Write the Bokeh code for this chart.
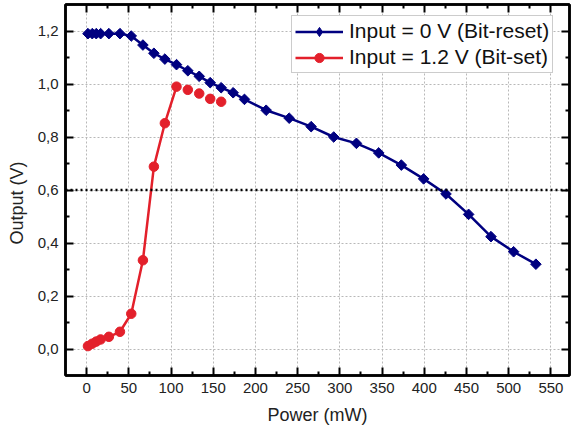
import math
from bokeh.plotting import figure
from bokeh.models import (FixedTicker, LinearAxis, Span, Title, Legend,
                          LegendItem, Range1d)
from bokeh.embed import file_html
from bokeh.resources import INLINE

# ---- data ----
blue_x = [1.6, 6.7, 11.4, 16.6, 26.4, 39.5, 52.9, 66.7, 79.7, 92.7, 106.5,
          119.9, 133.4, 146.4, 159.4, 173.6, 187.0, 212.7, 240.0, 266.0,
          292.7, 319.6, 346.0, 372.8, 399.2, 425.7, 452.5, 479.0, 505.8, 532.2]
blue_y = [1.19, 1.19, 1.19, 1.19, 1.19, 1.19, 1.181, 1.147, 1.116, 1.094,
          1.073, 1.050, 1.029, 1.005, 0.986, 0.967, 0.942, 0.901, 0.871,
          0.839, 0.800, 0.776, 0.740, 0.694, 0.642, 0.585, 0.508, 0.424,
          0.367, 0.320]

red_x = [1.6, 6.7, 11.4, 16.6, 26.4, 39.5, 52.9, 66.7, 79.7, 92.7, 106.5,
         119.9, 133.4, 146.4, 159.4]
red_y = [0.011, 0.020, 0.028, 0.036, 0.046, 0.065, 0.133, 0.335, 0.688,
         0.852, 0.990, 0.978, 0.964, 0.944, 0.933]
red_connected = 11  # the line joins only the first 11 points

threshold = 0.6

x_ticks = [0, 50, 100, 150, 200, 250, 300, 350, 400, 450, 500, 550]
x_minor = [25, 75, 125, 175, 225, 275, 325, 375, 425, 475, 525]
y_ticks = [0.0, 0.2, 0.4, 0.6, 0.8, 1.0, 1.2]
y_tick_labels = ["0,0", "0,2", "0,4", "0,6", "0,8", "1,0", "1,2"]
y_minor = [0.1, 0.3, 0.5, 0.7, 0.9, 1.1]

series_labels = ["Input = 0 V (Bit-reset)", "Input = 1.2 V (Bit-set)"]
x_label = "Power (mW)"
y_label = "Output (V)"

BLUE = "#000080"
RED = "#E3202B"
FONT = "Liberation Sans"
TXT = "#222222"

p = figure(width=571, height=432, x_range=Range1d(-25, 572),
           y_range=Range1d(-0.1, 1.3), output_backend="svg",
           toolbar_location=None, min_border_left=65, min_border_right=2,
           min_border_top=4, min_border_bottom=57)
p.background_fill_color = "white"
p.border_fill_color = "white"
p.outline_line_color = "black"
p.outline_line_width = 2.5

p.xaxis.visible = False
p.yaxis.visible = False


def style(ax, ticker):
    ax.ticker = ticker
    ax.axis_line_color = "black"
    ax.axis_line_width = 2.5
    ax.major_tick_in = 8
    ax.major_tick_out = 0
    ax.minor_tick_in = 4
    ax.minor_tick_out = 0
    ax.major_tick_line_width = 2
    ax.minor_tick_line_width = 2
    ax.major_tick_line_color = "black"
    ax.minor_tick_line_color = "black"
    ax.major_label_text_font = FONT
    ax.major_label_text_font_size = "15px"
    ax.major_label_text_color = TXT


xt = FixedTicker(ticks=x_ticks, minor_ticks=x_minor)
yt = FixedTicker(ticks=y_ticks, minor_ticks=y_minor)

xb = LinearAxis(axis_label=x_label)
style(xb, xt)
xb.major_label_standoff = 7
xb.axis_label_standoff = 9
xb.axis_label_text_font = FONT
xb.axis_label_text_font_size = "18px"
xb.axis_label_text_font_style = "normal"
xb.axis_label_text_color = TXT
p.add_layout(xb, "below")

yl = LinearAxis()
style(yl, yt)
yl.major_label_standoff = 7
yl.major_label_overrides = dict(zip(y_ticks, y_tick_labels))
p.add_layout(yl, "left")

for side, tk in (("above", xt), ("right", yt)):
    ax = LinearAxis()
    style(ax, tk)
    ax.major_label_text_font_size = "0px"
    ax.major_label_text_color = None
    ax.major_label_standoff = 0
    p.add_layout(ax, side)

# y axis title as a side title, shifted a little below the centre
p.add_layout(Title(text=y_label, align="left", offset=131,
                   vertical_align="top", standoff=12, text_font=FONT,
                   text_font_size="18px", text_font_style="normal",
                   text_color=TXT), "left")

# grid
p.xgrid.ticker = xt
p.ygrid.ticker = yt
for g in (p.xgrid, p.ygrid):
    g.grid_line_color = "#b8b8b8"
    g.grid_line_dash = "2 2"
    g.grid_line_width = 1

# threshold line
p.add_layout(Span(location=threshold, dimension="width", line_color="black",
                  line_width=2.6, line_dash="2 3"))

# series
bl = p.line(blue_x, blue_y, line_color=BLUE, line_width=2.5)
bm = p.scatter(blue_x, blue_y, marker="square", size=7.5, angle=math.pi / 4,
               fill_color=BLUE, line_color=BLUE)
rl = p.line(red_x[:red_connected], red_y[:red_connected], line_color=RED,
            line_width=2.5)
rm = p.scatter(red_x, red_y, marker="circle", size=9.5, fill_color=RED,
               line_color=RED)
# legend-only diamond key (not drawn in the plot area)
bk = p.scatter([float("nan")], [float("nan")], marker="diamond",
               fill_color=BLUE, line_color=BLUE)

legend = Legend(items=[LegendItem(label=series_labels[0], renderers=[bl, bk]),
                       LegendItem(label=series_labels[1], renderers=[rl, rm])],
                location=(226, 302))
legend.label_text_font = FONT
legend.label_text_font_size = "21px"
legend.label_text_color = "#111111"
legend.glyph_width = 48
legend.glyph_height = 23
legend.label_height = 23
legend.spacing = 2
legend.padding = 3
legend.label_standoff = 6
legend.margin = 0
legend.border_line_color = "#999999"
legend.border_line_width = 1.5
legend.background_fill_color = "white"
legend.background_fill_alpha = 1
p.add_layout(legend, "center")

open("out.html", "w").write(file_html(p, INLINE))
